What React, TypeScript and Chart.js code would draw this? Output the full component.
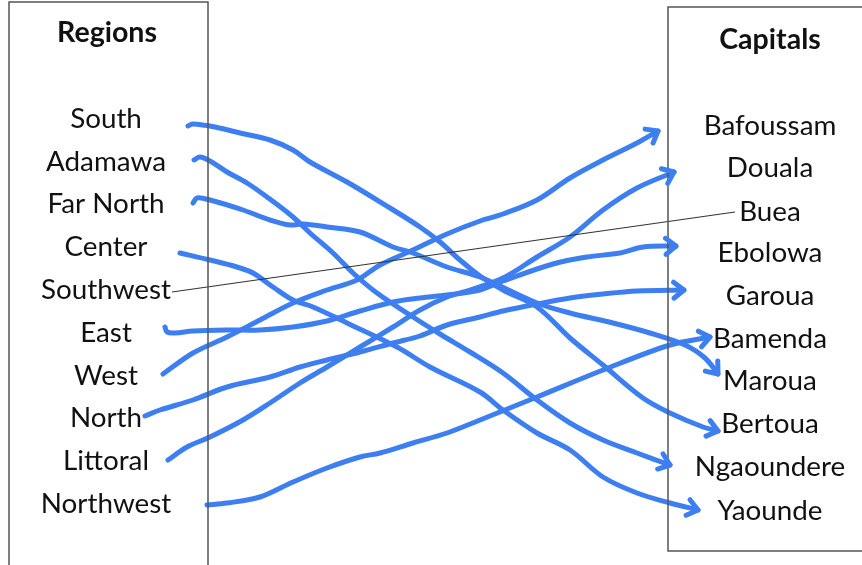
import React, { useEffect, useRef } from "react";
import { Chart, registerables } from "chart.js";
Chart.register(...registerables);

// ---- text data ----
const regionsTitle = "Regions";
const capitalsTitle = "Capitals";
const regions = ["South", "Adamawa", "Far North", "Center", "Southwest", "East", "West", "North", "Littoral", "Northwest"];
const regionRows = [119, 162, 204, 247, 290, 333, 376, 418, 461, 504];
const capitals = ["Bafoussam", "Douala", "Buea", "Ebolowa", "Garoua", "Bamenda", "Maroua", "Bertoua", "Ngaoundere", "Yaounde"];
const capitalRows = [126, 168, 212, 253, 296, 339, 381, 424, 467, 511];

// ---- hand-drawn strokes (diagram coordinates) ----
const southX = [188, 193, 215, 240, 270, 293, 310, 347, 390, 420, 440, 460, 480, 503, 537, 570, 603, 643, 670, 703, 718];
const southY = [126, 124, 127, 133, 140, 150, 162, 182, 208, 227, 242, 260, 276, 290, 307, 338, 365, 398, 413, 427, 431];
const adamawaX = [194, 200, 210, 227, 247, 267, 293, 310, 333, 353, 377, 413, 440, 470, 503, 537, 570, 603, 637, 670];
const adamawaY = [160, 157, 161, 172, 183, 197, 217, 233, 253, 273, 293, 317, 334, 352, 373, 400, 423, 440, 453, 465];
const farNorthX = [193, 197, 210, 243, 270, 290, 303, 327, 360, 393, 413, 447, 480, 537, 570, 613, 650, 685, 705, 718];
const farNorthY = [203, 198, 200, 210, 220, 225, 224, 227, 232, 247, 253, 267, 277, 303, 313, 323, 333, 345, 358, 374];
const centerX = [180, 210, 237, 253, 273, 293, 313, 347, 397, 430, 480, 503, 537, 570, 603, 637, 670, 698];
const centerY = [253, 260, 267, 273, 287, 300, 307, 323, 347, 367, 392, 410, 433, 450, 477, 493, 503, 510];
const eastX = [165, 167, 175, 193, 227, 260, 293, 327, 360, 393, 420, 447, 480, 503, 553, 587, 620, 643, 676];
const eastY = [327, 332, 333, 331, 330, 330, 327, 321, 311, 302, 298, 295, 290, 281, 264, 257, 253, 247, 246];
const westX = [163, 193, 227, 260, 293, 327, 357, 380, 413, 447, 480, 503, 537, 570, 603, 637, 658];
const westY = [374, 353, 337, 320, 303, 290, 280, 265, 250, 234, 221, 214, 200, 178, 160, 143, 131];
const northX = [145, 160, 193, 227, 270, 300, 327, 360, 393, 420, 447, 480, 503, 537, 570, 603, 637, 684];
const northY = [416, 410, 400, 387, 377, 367, 360, 352, 343, 336, 325, 317, 311, 304, 298, 294, 291, 290];
const littoralX = [168, 187, 210, 243, 270, 300, 327, 360, 393, 420, 447, 470, 503, 537, 570, 603, 637, 674];
const littoralY = [460, 447, 437, 420, 403, 383, 367, 347, 327, 310, 297, 290, 278, 257, 237, 210, 188, 172];
const northwestX = [207, 227, 260, 293, 327, 360, 380, 413, 447, 480, 537, 603, 670, 710];
const northwestY = [505, 503, 497, 482, 468, 457, 453, 443, 433, 420, 397, 370, 345, 337];

// thin connector Southwest -> Buea
const southwestX = [172, 735];
const southwestY = [292, 212];

// boxes
const leftBoxX = [9, 9, 208, 208];
const leftBoxY = [600, 2, 2, 600];
const rightBoxX = [880, 668, 668, 880];
const rightBoxY = [7, 7, 551, 551];

const strokes = [
  [southX, southY],
  [adamawaX, adamawaY],
  [farNorthX, farNorthY],
  [centerX, centerY],
  [eastX, eastY],
  [westX, westY],
  [northX, northY],
  [littoralX, littoralY],
  [northwestX, northwestY],
];

const BLUE = "#3d7ff0";
const FONT = "Lato, 'Open Sans', sans-serif";

function pts(xs: number[], ys: number[]) {
  return xs.map((x, i) => ({ x, y: ys[i] }));
}

const labelPlugin = {
  id: "labels",
  afterDatasetsDraw(chart: any) {
    const { ctx, scales } = chart;
    const sx = scales.x;
    const sy = scales.y;
    ctx.save();
    ctx.fillStyle = "#111";
    ctx.textAlign = "center";
    ctx.textBaseline = "middle";

    // fit font size so "Southwest" is ~130px wide
    ctx.font = `26px ${FONT}`;
    const w = ctx.measureText("Southwest").width;
    const size = (26 * 130) / w;
    ctx.font = `bold 26px ${FONT}`;
    const wb = ctx.measureText(regionsTitle).width;
    const bsize = (26 * 100) / wb;

    ctx.font = `bold ${bsize}px ${FONT}`;
    ctx.fillText(regionsTitle, sx.getPixelForValue(107), sy.getPixelForValue(33));
    ctx.fillText(capitalsTitle, sx.getPixelForValue(770), sy.getPixelForValue(40));

    ctx.font = `${size}px ${FONT}`;
    regions.forEach((r, i) => {
      ctx.fillText(r, sx.getPixelForValue(106), sy.getPixelForValue(regionRows[i]));
    });
    capitals.forEach((c, i) => {
      ctx.fillText(c, sx.getPixelForValue(770), sy.getPixelForValue(capitalRows[i]));
    });

    // arrowheads
    ctx.strokeStyle = BLUE;
    ctx.lineWidth = 5;
    ctx.lineCap = "round";
    ctx.lineJoin = "round";
    strokes.forEach(([xs, ys], idx) => {
      if (idx === -1) return;
      const n = xs.length;
      const tx = sx.getPixelForValue(xs[n - 1]);
      const ty = sy.getPixelForValue(ys[n - 1]);
      const px = sx.getPixelForValue(xs[n - 2]);
      const py = sy.getPixelForValue(ys[n - 2]);
      const ang = Math.atan2(ty - py, tx - px);
      const L = 13;
      const a = (38 * Math.PI) / 180;
      ctx.beginPath();
      ctx.moveTo(tx - L * Math.cos(ang - a), ty - L * Math.sin(ang - a));
      ctx.lineTo(tx, ty);
      ctx.lineTo(tx - L * Math.cos(ang + a), ty - L * Math.sin(ang + a));
      ctx.stroke();
    });
    ctx.restore();
  },
};

export default function App() {
  const ref = useRef<HTMLCanvasElement | null>(null);
  useEffect(() => {
    if (!ref.current) return;
    const datasets: any[] = [
      {
        data: pts(leftBoxX, leftBoxY),
        borderColor: "#555",
        borderWidth: 1.5,
        tension: 0,
      },
      {
        data: pts(rightBoxX, rightBoxY),
        borderColor: "#555",
        borderWidth: 1.5,
        tension: 0,
      },
      {
        data: pts(southwestX, southwestY),
        borderColor: "#333",
        borderWidth: 1.2,
        tension: 0,
      },
      ...strokes.map(([xs, ys]) => ({
        data: pts(xs, ys),
        borderColor: BLUE,
        borderWidth: 5,
        tension: 0.35,
        borderCapStyle: "round",
        borderJoinStyle: "round",
      })),
    ].map((d) => ({ ...d, showLine: true, pointRadius: 0, pointHoverRadius: 0, clip: false, fill: false }));

    const chart = new Chart(ref.current, {
      type: "scatter",
      data: { datasets },
      options: {
        animation: false,
        responsive: false,
        events: [],
        layout: { padding: 0 },
        plugins: { legend: { display: false }, tooltip: { enabled: false } },
        scales: {
          x: { type: "linear", min: 0, max: 862, display: false },
          y: { type: "linear", min: 0, max: 565, reverse: true, display: false },
        },
      },
      plugins: [labelPlugin],
    });
    return () => chart.destroy();
  }, []);

  return (
    <div style={{ position: "fixed", left: 0, top: 0, width: 862, height: 565, background: "#fff" }}>
      <canvas ref={ref} width={862} height={565} style={{ width: 862, height: 565, display: "block" }} />
    </div>
  );
}
